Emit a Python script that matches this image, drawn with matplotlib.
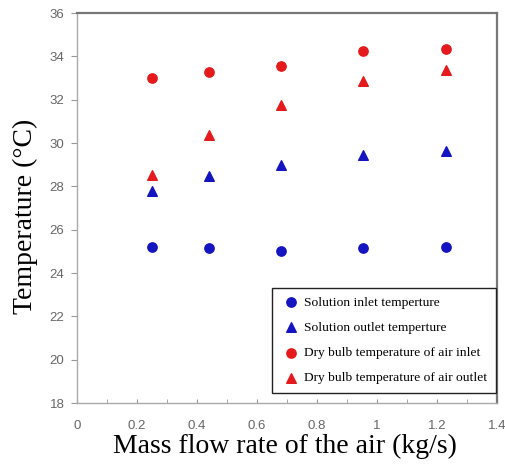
import numpy as np
import matplotlib.pyplot as plt
from matplotlib.ticker import MultipleLocator

# mass flow rate of the air (kg/s)
flow = [0.25, 0.44, 0.68, 0.955, 1.23]

# temperatures (C)
sol_in = [25.19, 25.14, 25.03, 25.17, 25.2]
sol_out = [27.78, 28.5, 29.0, 29.47, 29.62]
air_in = [33.0, 33.3, 33.55, 34.25, 34.35]
air_out = [28.52, 30.37, 31.75, 32.88, 33.35]

xtick_labels = ['0', '0.2', '0.4', '0.6', '0.8', '1', '1.2', '1.4']
labels = ['Solution inlet temperture', 'Solution outlet temperture',
          'Dry bulb temperature of air inlet', 'Dry bulb temperature of air outlet']

blue = '#1414c0'
red = '#e41a1c'

fig = plt.figure(figsize=(5.06, 4.65), dpi=100)
ax = fig.add_axes([0.152, 0.133, 0.830, 0.839])

ax.scatter(flow, sol_in, marker='o', s=45, color=blue, label=labels[0], zorder=3)
ax.scatter(flow, sol_out, marker='^', s=48, color=blue, label=labels[1], zorder=3)
ax.scatter(flow, air_in, marker='o', s=45, color=red, label=labels[2], zorder=3)
ax.scatter(flow, air_out, marker='^', s=48, color=red, label=labels[3], zorder=3)

ax.set_xlim(0, 1.4)
ax.set_ylim(18, 36)
ax.set_xticks(np.arange(0, 1.41, 0.2))
ax.set_xticklabels(xtick_labels)
ax.xaxis.set_minor_locator(MultipleLocator(0.1))
ax.yaxis.set_major_locator(MultipleLocator(2))

for lab in ax.get_xticklabels() + ax.get_yticklabels():
    lab.set_family('Liberation Sans')
ax.tick_params(axis='x', which='both', direction='in', length=3, color='#999999',
               labelsize=9.5, labelcolor='#666666', pad=12)
ax.tick_params(axis='y', direction='out', length=4, color='#999999',
               labelsize=9.5, labelcolor='#666666', pad=5)

for s in ['left', 'bottom']:
    ax.spines[s].set_color('#aaaaaa')
    ax.spines[s].set_linewidth(1.0)
for s in ['top', 'right']:
    ax.spines[s].set_color('#777777')
    ax.spines[s].set_linewidth(1.6)

fig.text(0.563, 0.026, 'Mass flow rate of the air (kg/s)', family='Liberation Serif',
         fontsize=20, ha='center', va='baseline')
fig.text(0.050, 0.535, 'Temperature (\u00b0C)', family='Liberation Serif',
         fontsize=20, ha='center', va='center', rotation=90)

leg = ax.legend(loc='lower right', bbox_to_anchor=(0.9976, 0.0256),
                prop={'family': 'Liberation Serif', 'size': 9.7},
                frameon=True, fancybox=False, edgecolor='#222222', framealpha=1,
                handletextpad=0.3, borderpad=0.65, labelspacing=0.95,
                handlelength=1.4, borderaxespad=0)
leg.get_frame().set_linewidth(1.0)

plt.savefig('out.png', dpi=100)
